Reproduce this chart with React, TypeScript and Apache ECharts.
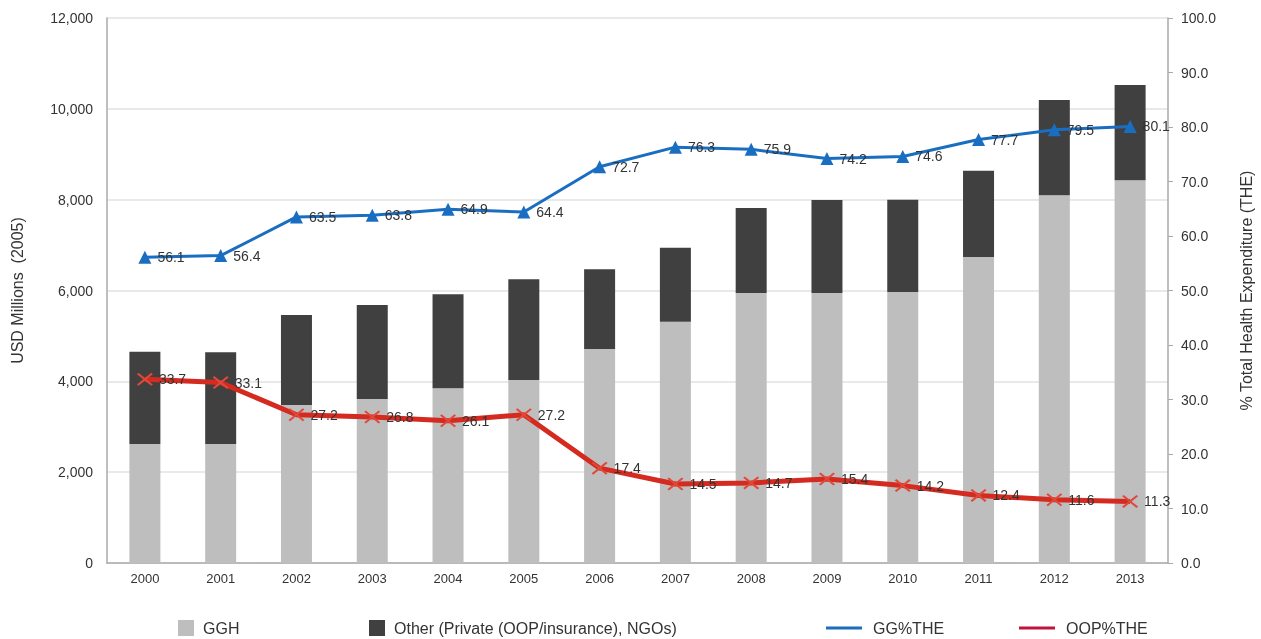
import React, { useEffect, useRef } from "react";
import * as echarts from "echarts";

const years = ["2000", "2001", "2002", "2003", "2004", "2005", "2006", "2007", "2008", "2009", "2010", "2011", "2012", "2013"];
const ggh = [2620, 2620, 3480, 3610, 3850, 4030, 4710, 5310, 5945, 5945, 5965, 6740, 8100, 8430];
const other = [2030, 2020, 1980, 2070, 2070, 2220, 1760, 1630, 1870, 2050, 2035, 1895, 2095, 2095];
const ggThe = [56.1, 56.4, 63.5, 63.8, 64.9, 64.4, 72.7, 76.3, 75.9, 74.2, 74.6, 77.7, 79.5, 80.1];
const oopThe = [33.7, 33.1, 27.2, 26.8, 26.1, 27.2, 17.4, 14.5, 14.7, 15.4, 14.2, 12.4, 11.6, 11.3];

const FONT = "'Liberation Sans', Arial, sans-serif";
const X_PATH = "path://M1,0 L5,4 L9,0 L10,1 L6,5 L10,9 L9,10 L5,6 L1,10 L0,9 L4,5 L0,1 Z";

export default function App() {
  const ref = useRef<HTMLDivElement>(null);
  useEffect(() => {
    if (!ref.current) return;
    const chart = echarts.init(ref.current, null, { renderer: "svg" });
    const legendText = { fontFamily: FONT, fontSize: 16, color: "#333", padding: [0, 0, 0, 4] };
    chart.setOption({
      animation: false,
      textStyle: { fontFamily: FONT },
      grid: { left: 107, right: 93, top: 18, bottom: 76, containLabel: false, outerBoundsMode: "none" },
      legend: [
        { left: 178, top: 620, padding: 0, itemWidth: 16, itemHeight: 16, textStyle: legendText, data: [{ name: "GGH", icon: "rect" }] },
        { left: 369, top: 620, padding: 0, itemWidth: 16, itemHeight: 16, textStyle: legendText, data: [{ name: "Other (Private (OOP/insurance), NGOs)", icon: "rect" }] },
        { left: 826, top: 620, padding: 0, itemWidth: 36, itemHeight: 3, textStyle: { ...legendText, padding: [0, 0, 0, 6] }, data: [{ name: "GG%THE", icon: "rect", itemStyle: { color: "#1a6ec2" } }] },
        { left: 1019, top: 620, padding: 0, itemWidth: 36, itemHeight: 3, textStyle: { ...legendText, padding: [0, 0, 0, 6] }, data: [{ name: "OOP%THE", icon: "rect", itemStyle: { color: "#c0143c" } }] },
      ],
      xAxis: {
        type: "category",
        data: years,
        axisLine: { show: true, lineStyle: { color: "#aaa", width: 1.5 } },
        axisTick: { show: false },
        axisLabel: { color: "#333", fontSize: 13, margin: 9, fontFamily: FONT },
      },
      yAxis: [
        {
          type: "value",
          min: 0,
          max: 12000,
          interval: 2000,
          name: "USD Millions  (2005)",
          nameLocation: "middle",
          nameGap: 82,
          nameRotate: 90,
          nameTextStyle: { fontSize: 16, color: "#333", fontFamily: FONT },
          axisLine: { show: true, lineStyle: { color: "#aaa", width: 1.5 } },
          axisTick: { show: false },
          axisLabel: {
            color: "#333",
            fontSize: 14,
            margin: 14,
            fontFamily: FONT,
            formatter: (v: number) => v.toLocaleString("en-US"),
          },
          splitLine: { show: true, lineStyle: { color: "#e2e2e2", width: 1.5 } },
        },
        {
          type: "value",
          min: 0,
          max: 100,
          interval: 10,
          name: "% Total Health Expenditure (THE)",
          nameLocation: "middle",
          nameGap: 70,
          nameRotate: 90,
          nameTextStyle: { fontSize: 16, color: "#333", fontFamily: FONT },
          axisLine: { show: true, lineStyle: { color: "#aaa", width: 1.5 } },
          axisTick: { show: true, length: 5, lineStyle: { color: "#aaa" } },
          axisLabel: {
            color: "#333",
            fontSize: 14,
            margin: 13,
            fontFamily: FONT,
            formatter: (v: number) => v.toFixed(1),
          },
          splitLine: { show: false },
        },
      ],
      series: [
        {
          name: "GGH",
          type: "bar",
          stack: "total",
          barWidth: 31,
          itemStyle: { color: "#bebebe" },
          data: ggh,
        },
        {
          name: "Other (Private (OOP/insurance), NGOs)",
          type: "bar",
          stack: "total",
          barWidth: 31,
          itemStyle: { color: "#404040" },
          data: other,
        },
        {
          name: "GG%THE",
          type: "line",
          yAxisIndex: 1,
          data: ggThe,
          symbol: "triangle",
          symbolSize: 13,
          lineStyle: { color: "#1a6ec2", width: 3 },
          itemStyle: { color: "#1a6ec2" },
          label: {
            show: true,
            position: "right",
            distance: 6,
            color: "#333",
            fontSize: 14,
            fontFamily: FONT,
            formatter: (p: any) => p.value.toFixed(1),
          },
          z: 5,
        },
        {
          name: "OOP%THE",
          type: "line",
          yAxisIndex: 1,
          data: oopThe,
          symbol: X_PATH,
          symbolSize: [16, 13],
          lineStyle: { color: "#d42a20", width: 5 },
          itemStyle: { color: "#e0493a" },
          label: {
            show: true,
            position: "right",
            distance: 6,
            color: "#333",
            fontSize: 14,
            fontFamily: FONT,
            formatter: (p: any) => p.value.toFixed(1),
          },
          z: 5,
        },
      ],
    });
    return () => chart.dispose();
  }, []);
  return <div ref={ref} style={{ position: "fixed", left: 0, top: 0, width: 1261, height: 639 }} />;
}
